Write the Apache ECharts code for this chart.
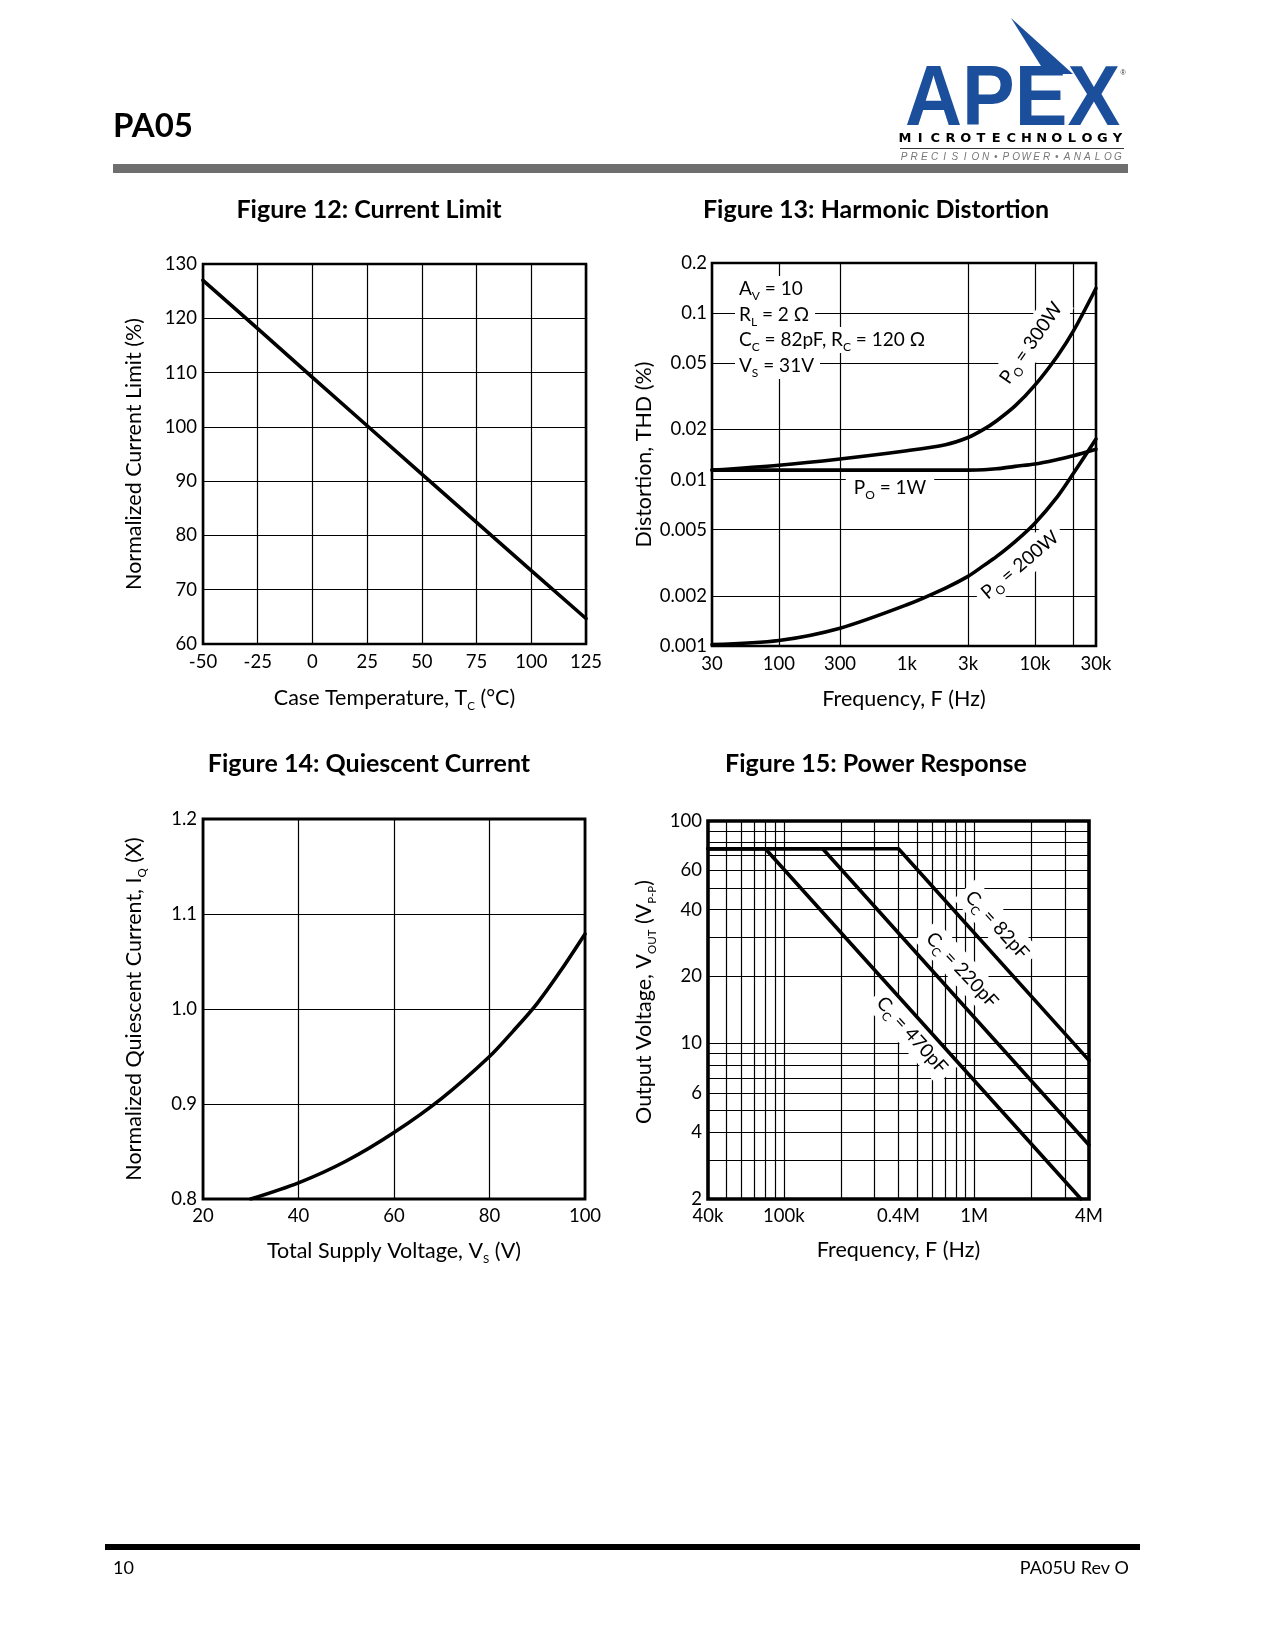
<!DOCTYPE html>
<html><head><meta charset="utf-8">
<script src="https://cdn.jsdelivr.net/npm/echarts@6/dist/echarts.min.js"></script>
<style>html,body{margin:0;padding:0;background:#fff}#c{width:1275px;height:1650px}</style>
</head><body><div id="c"></div>
<script>
// ---------------- data ----------------
// Figure 12: Current Limit
const tempC = [-50, -25, 0, 25, 50, 75, 100, 125];
const currentLimitPct = [127.0, 118.1, 109.1, 100.2, 91.3, 82.4, 73.5, 64.7];

// Figure 13: Harmonic Distortion
const thdFreqHz = [30, 100, 300, 1000, 2000, 3000, 4000, 5000, 7000, 10000, 15000, 20000, 30000];
const thd1W   = [0.0114, 0.0114, 0.0114, 0.0114, 0.0114, 0.0114, 0.01145, 0.0116, 0.0120, 0.0124, 0.0132, 0.0139, 0.0152];
const thd300W = [0.0114, 0.0122, 0.0133, 0.0149, 0.0162, 0.0179, 0.0201, 0.0225, 0.0277, 0.0369, 0.0553, 0.0781, 0.1410];
const thd200W = [0.00102, 0.00108, 0.00128, 0.00177, 0.00223, 0.00262, 0.00305, 0.00344, 0.00424, 0.00547, 0.0079, 0.0109, 0.0175];
const thdFreqTicks = [30, 100, 300, 1000, 3000, 10000, 30000];
const thdFreqTickLabels = ['30', '100', '300', '1k', '3k', '10k', '30k'];
const thdFreqGrid = [100, 300, 3000, 10000, 20000];
const thdTicks = [0.001, 0.002, 0.005, 0.01, 0.02, 0.05, 0.1, 0.2];
const thdTickLabels = ['0.001', '0.002', '0.005', '0.01', '0.02', '0.05', '0.1', '0.2'];
const thdGrid = [0.002, 0.005, 0.01, 0.02, 0.05, 0.1];

// Figure 14: Quiescent Current
const supplyV = [30, 40, 50, 60, 70, 80, 85, 90, 95, 100];
const iqNorm  = [0.800, 0.817, 0.840, 0.870, 0.906, 0.950, 0.977, 1.006, 1.041, 1.079];

// Figure 15: Power Response
const prFreq470 = [40e3, 80e3, 3.63e6];
const prVout470 = [75, 75, 2];
const prFreq220 = [40e3, 160e3, 4e6];
const prVout220 = [75, 75, 3.5];
const prFreq82  = [40e3, 400e3, 4e6];
const prVout82  = [75, 75, 8.4];
const prFreqTicks = [40e3, 1e5, 4e5, 1e6, 4e6];
const prFreqTickLabels = ['40k', '100k', '0.4M', '1M', '4M'];
const prFreqGrid = [5e4, 6e4, 7e4, 8e4, 9e4, 1e5, 2e5, 3e5, 4e5, 5e5, 6e5, 7e5, 8e5, 9e5, 1e6, 2e6, 3e6];
const prVoutTicks = [2, 4, 6, 10, 20, 40, 60, 100];
const prVoutGrid = [3, 4, 5, 6, 7, 8, 9, 10, 20, 30, 40, 50, 60, 70, 80, 90];

// ---------------- helpers ----------------
const FF = 'Lato, "Open Sans", sans-serif';
const zip = (xs, ys) => xs.map((x, i) => [x, ys[i]]);
const lookup = (ticks, labels) => v => {
  for (let i = 0; i < ticks.length; i++) if (Math.abs(v - ticks[i]) <= 1e-6 * ticks[i]) return labels[i];
  return '';
};

const grids = [
  {left: 203, top: 264, width: 383, height: 380},
  {left: 712, top: 263, width: 384, height: 383},
  {left: 203, top: 819, width: 382, height: 380},
  {left: 708, top: 821, width: 381, height: 378}
];
const borderW = [2.6, 2.6, 2.8, 3.6];

const labelStyle = {color: '#000', fontFamily: FF, fontSize: 18.5};
const subRich = {sub: {fontFamily: FF, fontSize: 11.5, color: '#000', verticalAlign: 'bottom', lineHeight: 11}};
const nameStyle = {color: '#000', fontFamily: FF, fontSize: 21.5, lineHeight: 28, rich: subRich};
const split = {show: true, lineStyle: {color: '#000', width: 1.2}};

function axisBase(gi, extra) {
  return Object.assign({
    gridIndex: gi,
    axisLine: {show: false},
    axisTick: {show: false},
    splitLine: split,
    minorTick: {show: false},
    minorSplitLine: {show: false},
    nameLocation: 'middle',
    nameMoveOverlap: false,
    nameTextStyle: nameStyle
  }, extra);
}

const xAxis = [
  axisBase(0, {type: 'value', min: -50, max: 125, interval: 25,
    axisLabel: Object.assign({margin: 9}, labelStyle),
    name: 'Case Temperature, T{sub|C} (°C)', nameGap: 40}),
  axisBase(1, {type: 'log', logBase: 10, min: 30, max: 30000,
    axisTick: {show: false, customValues: thdFreqGrid},
    axisLabel: Object.assign({margin: 9, customValues: thdFreqTicks, formatter: lookup(thdFreqTicks, thdFreqTickLabels)}, labelStyle),
    name: 'Frequency, F (Hz)', nameGap: 39}),
  axisBase(2, {type: 'value', min: 20, max: 100, interval: 20,
    axisLabel: Object.assign({margin: 8}, labelStyle),
    name: 'Total Supply Voltage, V{sub|S} (V)', nameGap: 38}),
  axisBase(3, {type: 'log', logBase: 10, min: 40e3, max: 4e6,
    axisTick: {show: false, customValues: prFreqGrid},
    axisLabel: Object.assign({margin: 8, customValues: prFreqTicks, formatter: lookup(prFreqTicks, prFreqTickLabels)}, labelStyle),
    name: 'Frequency, F (Hz)', nameGap: 37})
];

const yAxis = [
  axisBase(0, {type: 'value', min: 60, max: 130, interval: 10,
    axisLabel: Object.assign({margin: 6}, labelStyle),
    name: 'Normalized Current Limit (%)', nameGap: 55}),
  axisBase(1, {type: 'log', logBase: 10, min: 0.001, max: 0.2,
    axisTick: {show: false, customValues: thdGrid},
    axisLabel: Object.assign({margin: 5, customValues: thdTicks, formatter: lookup(thdTicks, thdTickLabels)}, labelStyle),
    name: 'Distortion, THD (%)', nameGap: 54}),
  axisBase(2, {type: 'value', min: 0.8, max: 1.2, interval: 0.1,
    axisLabel: Object.assign({margin: 6, formatter: v => v.toFixed(1)}, labelStyle),
    name: 'Normalized Quiescent Current, I{sub|Q} (X)', nameGap: 55}),
  axisBase(3, {type: 'log', logBase: 10, min: 2, max: 100,
    axisTick: {show: false, customValues: prVoutGrid},
    axisLabel: Object.assign({margin: 6, customValues: prVoutTicks}, labelStyle),
    name: 'Output Voltage, V{sub|OUT} (V{sub|P-P})', nameGap: 50,
    nameTextStyle: Object.assign({}, nameStyle, {padding: [0, 0, 0, 16]})})
];

const lineSeries = (xi, data, smooth) => ({
  type: 'line', xAxisIndex: xi, yAxisIndex: xi, data: data, symbol: 'none',
  smooth: smooth || false, silent: true, z: 3,
  lineStyle: {color: '#000', width: 3.6, cap: 'round'}
});

// ---------------- page graphics ----------------
const BLUE = '#1b4f9c';
const zsub = {fontFamily: FF, fontSize: 12, fill: '#000', verticalAlign: 'bottom', lineHeight: 14};
function txt(x, y, text, o) {
  o = o || {};
  return {
    type: 'text', x: x, y: y, rotation: (o.rot || 0) * Math.PI / 180, scaleX: o.sx || 1, z: o.z != null ? o.z : 1, silent: true,
    style: {
      text: text, fill: o.fill || '#000', fontFamily: o.ff || FF, fontSize: o.fs || 19,
      fontWeight: o.fw || 'normal', fontStyle: o.fst || 'normal',
      align: o.align || 'center', verticalAlign: 'middle', lineHeight: o.lh || 26,
      backgroundColor: o.bg, padding: o.pad, rich: {s: zsub}
    }
  };
}

const graphics = [];
// header
graphics.push(txt(113, 126, 'PA05', {fs: 33, fw: 'bold', align: 'left', lh: 38}));
graphics.push({type: 'rect', shape: {x: 113, y: 164, width: 1015, height: 9}, style: {fill: '#6e6e6e'}, silent: true});
// logo
graphics.push({type: 'polygon', shape: {points: [[1011, 18], [1073, 74], [1046, 74]]}, style: {fill: BLUE}, silent: true});
graphics.push(txt(905, 102, 'APEX', {fs: 85, fw: 'bold', ff: '"Liberation Sans", Arial, sans-serif', fill: BLUE, align: 'left', lh: 86, sx: 0.93}));
graphics.push(txt(1123, 73, '®', {fs: 7, ff: '"Liberation Sans", sans-serif', fill: '#333', lh: 8}));
const microWord = 'MICROTECHNOLOGY';
for (let i = 0; i < microWord.length; i++) {
  graphics.push(txt(905 + i * (212.5 / 14), 138.5, microWord[i], {fs: 13, fw: 'bold', ff: '"DejaVu Sans", sans-serif', lh: 14}));
}
graphics.push({type: 'line', shape: {x1: 900, y1: 148.5, x2: 1124, y2: 148.5}, style: {stroke: '#333', lineWidth: 1}, silent: true});
const tagWord = 'PRECISION•POWER•ANALOG';
for (let i = 0; i < tagWord.length; i++) {
  graphics.push(txt(904 + i * (214 / 21), 157, tagWord[i], {fs: 10, fst: 'italic', ff: '"Liberation Sans", sans-serif', fill: '#777', lh: 11}));
}
// figure titles
graphics.push(txt(369, 210, 'Figure 12: Current Limit', {fs: 25, fw: 'bold', lh: 30}));
graphics.push(txt(876, 210, 'Figure 13: Harmonic Distortion', {fs: 25, fw: 'bold', lh: 30}));
graphics.push(txt(369, 764, 'Figure 14: Quiescent Current', {fs: 25, fw: 'bold', lh: 30}));
graphics.push(txt(876, 764, 'Figure 15: Power Response', {fs: 25, fw: 'bold', lh: 30}));
// figure 13 annotations
graphics.push(txt(735, 289, 'A{s|V} = 10', {align: 'left', bg: '#fff', pad: [0, 6, 0, 4]}));
graphics.push(txt(735, 315, 'R{s|L} = 2 Ω', {align: 'left', bg: '#fff', pad: [0, 6, 0, 4]}));
graphics.push(txt(735, 340, 'C{s|C} = 82pF, R{s|C} = 120 Ω', {align: 'left', bg: '#fff', pad: [0, 6, 0, 4]}));
graphics.push(txt(735, 366, 'V{s|S} = 31V', {align: 'left', bg: '#fff', pad: [0, 6, 0, 4]}));
graphics.push(txt(890, 487, 'P{s|O} = 1W', {bg: '#fff', pad: [4, 8, 2, 8]}));
graphics.push(txt(1031, 343, 'P{s|O} = 300W', {rot: 55, bg: '#fff', pad: [2, 6, 2, 6]}));
graphics.push(txt(1020, 565, 'P{s|O} = 200W', {rot: 40, bg: '#fff', pad: [2, 6, 2, 6]}));
// figure 15 annotations
graphics.push(txt(997, 925, 'C{s|C} = 82pF', {rot: -48, bg: '#fff', pad: [2, 6, 2, 6]}));
graphics.push(txt(962, 970, 'C{s|C} = 220pF', {rot: -47, bg: '#fff', pad: [2, 6, 2, 6]}));
graphics.push(txt(912, 1035, 'C{s|C} = 470pF', {rot: -48, bg: '#fff', pad: [2, 6, 2, 6]}));
// footer
graphics.push({type: 'rect', shape: {x: 105, y: 1544, width: 1035, height: 6}, style: {fill: '#000'}, silent: true});
graphics.push(txt(113, 1568, '10', {fs: 18, align: 'left'}));
graphics.push(txt(1129, 1568, 'PA05U Rev O', {fs: 18, align: 'right'}));

// ---------------- chart ----------------
const chart = echarts.init(document.getElementById('c'), null, {renderer: 'canvas'});
chart.setOption({
  animation: false,
  backgroundColor: '#fff',
  textStyle: {fontFamily: FF},
  grid: grids.map((g, i) => Object.assign({show: true, borderColor: '#000', borderWidth: borderW[i], backgroundColor: 'transparent', containLabel: false, outerBoundsMode: 'none'}, g)),
  xAxis: xAxis,
  yAxis: yAxis,
  series: [
    lineSeries(0, zip(tempC, currentLimitPct)),
    lineSeries(1, zip(thdFreqHz, thd1W), 0.3),
    lineSeries(1, zip(thdFreqHz, thd300W), 0.3),
    lineSeries(1, zip(thdFreqHz, thd200W), 0.3),
    lineSeries(2, zip(supplyV, iqNorm), 0.3),
    lineSeries(3, zip(prFreq470, prVout470)),
    lineSeries(3, zip(prFreq220, prVout220)),
    lineSeries(3, zip(prFreq82, prVout82))
  ],
  graphic: {elements: graphics}
});
</script>
</body></html>
